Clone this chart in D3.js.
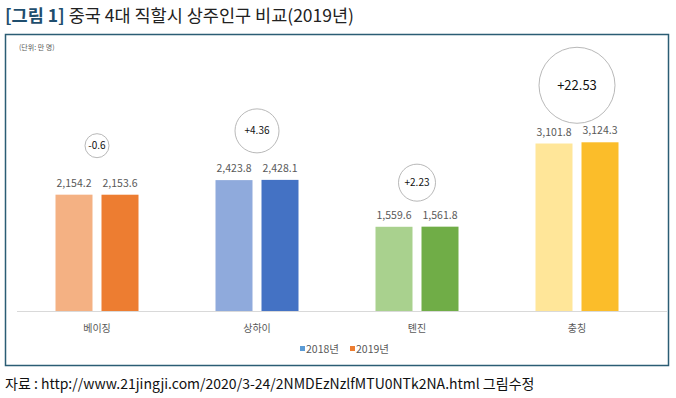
<!DOCTYPE html>
<html>
<head>
<meta charset="utf-8">
<script src="https://cdn.jsdelivr.net/npm/d3@7"></script>
<style>
  body { margin: 0; background: #fff; }
  svg { display: block; }
  text { font-family: "Noto Sans CJK KR", "Liberation Sans", sans-serif; }
</style>
</head>
<body>
<svg width="676" height="398"></svg>
<script>
// Data
const categories = ['베이징', '상하이', '톈진', '충칭'];
const values2018 = [2154.2, 2423.8, 1559.6, 3101.8];
const values2019 = [2153.6, 2428.1, 1561.8, 3124.3];
const changes = ['-0.6', '+4.36', '+2.23', '+22.53'];
const seriesNames = ['2018년', '2019년'];

// colours per city: [2018, 2019]
const colors = [
    ['#f4b183', '#ed7d31'],
    ['#8faadc', '#4472c4'],
    ['#a9d18e', '#70ad47'],
    ['#ffe699', '#fbbd2a']
];
// bubble annotations: radius and distance above the taller bar
const bubbleR = [12, 22, 18.5, 38];
const bubbleGap = [49, 49, 44, 57];
const bubbleFont = [10, 10, 10, 13];

const svg = d3.select('svg');

// Title
const title = svg.append('text')
    .attr('x', 5)
    .attr('y', 22)
    .attr('font-size', 17.5);
title.append('tspan').attr('fill', '#1f4e6e').attr('font-weight', 'bold').text('[그림 1]');
title.append('tspan').attr('fill', '#222').text(' 중국 4대 직할시 상주인구 비교(2019년)');

// Frame
svg.append('rect')
    .attr('x', 5.5)
    .attr('y', 34.5)
    .attr('width', 663)
    .attr('height', 331)
    .attr('fill', 'none')
    .attr('stroke', '#2b5d74')
    .attr('stroke-width', 1.5);

svg.append('text')
    .attr('x', 19)
    .attr('y', 50)
    .attr('font-size', 7)
    .attr('fill', '#595959')
    .text('(단위: 만 명)');

// Scales
const baseY = 311;
const xScale = d3.scaleBand()
    .domain(categories)
    .range([17, 657]);
const yScale = d3.scaleLinear()
    .domain([0, 4000])
    .range([baseY, baseY - 216]);

const barW = 37;
const barGap = 9;

const g = svg.append('g');

// x axis
const xAxis = d3.axisBottom(xScale).tickSize(0).tickPadding(14);
const xAxisGroup = g.append('g')
    .attr('transform', `translate(0, ${baseY})`)
    .call(xAxis);
xAxisGroup.select('.domain')
    .attr('stroke', '#d9d9d9')
    .attr('d', 'M17,0.5H667');
xAxisGroup.selectAll('.tick text')
    .attr('font-size', 10)
    .attr('fill', '#595959')
    .attr('font-family', '"Noto Sans CJK KR", sans-serif');

// Bars
const rows = categories.map((c, i) => ({
    cat: c, i: i, vals: [values2018[i], values2019[i]]
}));

rows.forEach(r => {
    const cx = xScale(r.cat) + xScale.bandwidth() / 2;
    r.vals.forEach((v, k) => {
        const x = k === 0 ? cx - barGap / 2 - barW : cx + barGap / 2;
        g.append('rect')
            .attr('x', x)
            .attr('y', yScale(v))
            .attr('width', barW)
            .attr('height', baseY - yScale(v))
            .attr('fill', colors[r.i][k]);
        g.append('text')
            .attr('x', x + barW / 2)
            .attr('y', yScale(v) - 8)
            .attr('text-anchor', 'middle')
            .attr('font-size', 10.5)
            .attr('font-family', 'Roboto, "Liberation Sans", sans-serif')
            .attr('fill', '#595959')
            .text(d3.format(',.1f')(v));
    });

    // change bubble
    const top = yScale(d3.max(r.vals));
    const cy = top - bubbleGap[r.i];
    g.append('circle')
        .attr('cx', cx)
        .attr('cy', cy)
        .attr('r', bubbleR[r.i])
        .attr('fill', 'none')
        .attr('stroke', '#a6a6a6')
        .attr('stroke-width', 0.8);
    g.append('text')
        .attr('x', cx)
        .attr('y', cy)
        .attr('dy', '0.35em')
        .attr('text-anchor', 'middle')
        .attr('font-size', bubbleFont[r.i])
        .attr('font-family', 'Roboto, "Liberation Sans", sans-serif')
        .attr('fill', '#111')
        .text(changes[r.i]);
});

// Legend
const legend = svg.append('g').attr('transform', 'translate(300, 353)');
const legendColors = ['#5b9bd5', '#ed7d31'];
let lx = 0;
seriesNames.forEach((s, k) => {
    legend.append('rect')
        .attr('x', lx)
        .attr('y', -7)
        .attr('width', 5)
        .attr('height', 5)
        .attr('fill', legendColors[k]);
    legend.append('text')
        .attr('x', lx + 6)
        .attr('y', 0)
        .attr('font-size', 10.5)
        .attr('fill', '#595959')
        .text(s);
    lx += 50;
});

// Source
svg.append('text')
    .attr('x', 5)
    .attr('y', 389)
    .attr('font-size', 14)
    .attr('fill', '#111')
    .attr('font-family', '"Liberation Sans Narrow", "Noto Sans CJK KR", sans-serif')
    .text('자료 : http://www.21jingji.com/2020/3-24/2NMDEzNzlfMTU0NTk2NA.html  그림수정');
</script>
</body>
</html>
